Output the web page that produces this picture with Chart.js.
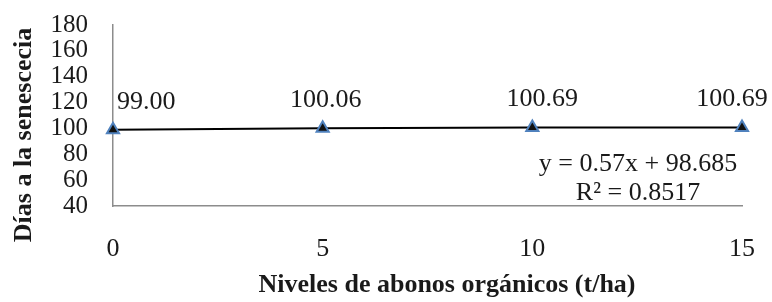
<!DOCTYPE html>
<html>
<head>
<meta charset="utf-8">
<script src="https://cdn.jsdelivr.net/npm/chart.js@4.4.1/dist/chart.umd.min.js"></script>
<style>
    html, body { margin: 0; padding: 0; background: #fff; }
    #wrap { width: 772px; height: 302px; }
</style>
</head>
<body>
<div id="wrap"><canvas id="chart" width="772" height="302"></canvas></div>
<script>
// datos
const niveles = [0, 5, 10, 15];
const diasSenescencia = [99.00, 100.06, 100.69, 100.69];
const tituloX = 'Niveles de abonos orgánicos (t/ha)';
const tituloY = 'Días a la senescecia';
const ecuacion = ['y = 0.57x + 98.685', 'R² = 0.8517'];

const FUENTE = '"Liberation Serif", "Times New Roman", serif';

// etiquetas de datos + ecuacion + titulos de ejes
const textos = {
    id: 'textos',
    afterDatasetsDraw(chart) {
        const ctx = chart.ctx;
        const meta = chart.getDatasetMeta(0);
        const dx = [4, 3, 10, -10];
        ctx.save();
        ctx.fillStyle = '#1a1a1a';
        ctx.font = '26px ' + FUENTE;
        ctx.textBaseline = 'middle';
        meta.data.forEach((p, i) => {
            ctx.textAlign = i === 0 ? 'left' : 'center';
            ctx.fillText(diasSenescencia[i].toFixed(2), p.x + dx[i], p.y - 28);
        });

        ctx.textAlign = 'center';
        ctx.fillText(ecuacion[0], 638, 164);
        ctx.fillText(ecuacion[1], 638, 193);

        ctx.font = 'bold 26px ' + FUENTE;
        ctx.fillText(tituloX, 447, 285);
        ctx.translate(24, 135);
        ctx.rotate(-Math.PI / 2);
        ctx.fillText(tituloY, 0, 0);
        ctx.restore();
    }
};

// sin relleno extra de las etiquetas (el area se fija con layout.padding)
function sinRelleno(scale) {
    scale.paddingTop = 0;
    scale.paddingBottom = 0;
    scale.paddingLeft = 0;
    scale.paddingRight = 0;
}

new Chart(document.getElementById('chart'), {
    type: 'line',
    data: {
        datasets: [{
            data: niveles.map((x, i) => ({ x: x, y: diasSenescencia[i] })),
            borderColor: '#000',
            borderWidth: 2,
            pointStyle: 'triangle',
            pointRadius: 7,
            pointBackgroundColor: '#111',
            pointBorderColor: '#4f81bd',
            pointBorderWidth: 2,
            tension: 0,
            clip: false
        }]
    },
    options: {
        responsive: false,
        animation: false,
        layout: { padding: { top: 25, right: 30, left: 0, bottom: 0 } },
        plugins: {
            legend: { display: false },
            tooltip: { enabled: false }
        },
        scales: {
            x: {
                type: 'linear',
                min: 0,
                max: 15,
                grid: { display: false, drawTicks: false },
                border: { color: '#8c8c8c', width: 1.5 },
                ticks: {
                    stepSize: 5,
                    color: '#1a1a1a',
                    padding: 28,
                    font: { family: FUENTE, size: 26 }
                },
                afterFit(scale) { scale.height = 96; sinRelleno(scale); }
            },
            y: {
                min: 40,
                max: 180,
                grid: { display: false, drawTicks: false },
                border: { color: '#8c8c8c', width: 1.5 },
                ticks: {
                    stepSize: 20,
                    autoSkip: false,
                    color: '#1a1a1a',
                    padding: 25,
                    font: { family: FUENTE, size: 25 }
                },
                afterFit(scale) { scale.width = 113; sinRelleno(scale); }
            }
        }
    },
    plugins: [textos]
});
</script>
</body>
</html>
